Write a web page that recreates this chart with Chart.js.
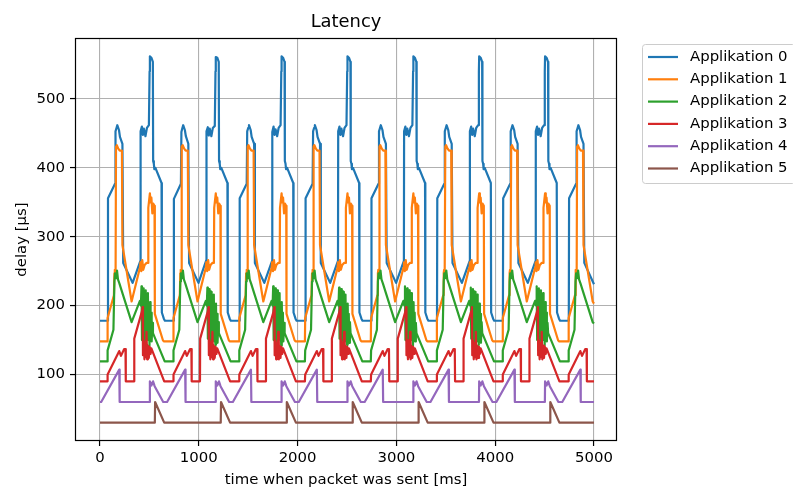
<!DOCTYPE html>
<html>
<head>
<meta charset="utf-8">
<title>Latency</title>
<script src="https://cdn.jsdelivr.net/npm/chart.js@4/dist/chart.umd.min.js"></script>
<style>
  html, body { margin: 0; padding: 0; background: #fff; overflow: hidden; }
  #latencyChart { display: block; }
</style>
</head>
<body>
<canvas id="latencyChart" width="793" height="488"></canvas>
<script>
// measured delay per application: [time sent (ms), delay (µs)]
const app0 = [
  [0,178],[78,178],[81,356],[152,377],[157,453],[167,458],[175,462],[192,455],[202,445],[227,435],[235,262],[330,233],[409,265],[411,453],[424,460],[434,448],[444,457],[460,446],[475,458],[495,462],[502,540],[505,562],[520,560],[535,554],[538,410],[545,406],[550,398],[561,400],[623,378],[626,190],[646,181],[657,178],
  [745,178],[748,355],[819,377],[824,452],[834,458],[842,462],[859,455],[869,446],[894,435],[902,262],[997,233],[1076,266],[1078,453],[1091,459],[1101,447],[1111,457],[1127,446],[1142,458],[1162,461],[1169,540],[1172,561],[1187,560],[1202,554],[1205,410],[1212,406],[1217,398],[1228,400],[1290,378],[1293,190],[1313,181],[1324,178],
  [1411,178],[1414,356],[1485,377],[1490,453],[1500,458],[1508,462],[1525,455],[1535,445],[1560,435],[1568,262],[1663,233],[1742,265],[1744,452],[1757,460],[1767,448],[1777,456],[1793,446],[1808,458],[1828,462],[1835,540],[1838,562],[1853,560],[1868,554],[1871,410],[1878,406],[1883,398],[1894,400],[1956,378],[1959,190],[1979,181],[1990,178],
  [2078,178],[2081,356],[2152,377],[2157,453],[2167,458],[2175,462],[2192,455],[2202,445],[2227,435],[2235,262],[2330,233],[2409,265],[2411,453],[2424,460],[2434,448],[2444,457],[2460,446],[2475,458],[2495,462],[2502,540],[2505,562],[2520,560],[2535,554],[2538,410],[2545,406],[2550,398],[2561,400],[2623,378],[2626,190],[2646,181],[2657,178],
  [2745,178],[2748,356],[2819,377],[2824,453],[2834,458],[2842,462],[2859,455],[2869,445],[2894,435],[2902,262],[2997,233],[3076,265],[3078,453],[3091,460],[3101,448],[3111,457],[3127,446],[3142,458],[3162,462],[3169,540],[3172,562],[3187,560],[3202,554],[3205,410],[3212,406],[3217,398],[3228,400],[3290,378],[3293,190],[3313,181],[3324,178],
  [3411,178],[3414,356],[3485,377],[3490,453],[3500,458],[3508,462],[3525,455],[3535,445],[3560,435],[3568,262],[3663,233],[3742,265],[3744,453],[3757,460],[3767,448],[3777,457],[3793,446],[3808,458],[3828,462],[3835,540],[3838,562],[3853,560],[3868,554],[3871,410],[3878,406],[3883,398],[3894,400],[3956,378],[3959,190],[3979,181],[3990,178],
  [4078,178],[4081,356],[4152,377],[4157,453],[4167,458],[4175,462],[4192,455],[4202,445],[4227,435],[4235,262],[4330,233],[4409,265],[4411,453],[4424,460],[4434,448],[4444,457],[4460,446],[4475,458],[4495,462],[4502,540],[4505,562],[4520,560],[4535,554],[4538,410],[4545,406],[4550,398],[4561,400],[4623,378],[4626,190],[4646,181],[4657,178],
  [4745,178],[4748,356],[4819,377],[4824,453],[4834,458],[4842,462],[4859,455],[4869,445],[4894,435],[4902,262],[5000,231]
];

const app1 = [
  [0,148],[74,148],[77,182],[141,215],[146,247],[150,252],[154,244],[158,250],[162,431],[170,433],[185,428],[200,425],[222,425],[227,288],[320,206],[404,255],[410,263],[418,250],[428,266],[438,252],[452,259],[470,262],[486,262],[489,342],[505,363],[512,350],[520,357],[530,334],[540,348],[552,345],[555,188],[636,150],[646,148],
  [741,148],[744,182],[808,215],[813,247],[817,252],[821,244],[825,250],[829,431],[837,433],[852,428],[867,425],[889,425],[894,288],[987,206],[1071,255],[1077,263],[1085,250],[1095,266],[1105,252],[1119,259],[1137,262],[1153,262],[1156,342],[1172,363],[1179,350],[1187,357],[1197,334],[1207,348],[1219,345],[1222,188],[1303,150],[1313,148],
  [1407,148],[1410,182],[1474,215],[1479,247],[1483,252],[1487,244],[1491,250],[1495,431],[1503,433],[1518,428],[1533,425],[1555,425],[1560,288],[1653,206],[1737,255],[1743,263],[1751,250],[1761,266],[1771,252],[1785,259],[1803,262],[1819,262],[1822,342],[1838,363],[1845,350],[1853,357],[1863,334],[1873,348],[1885,345],[1888,188],[1969,150],[1979,148],
  [2074,148],[2077,182],[2141,215],[2146,247],[2150,252],[2154,244],[2158,250],[2162,431],[2170,433],[2185,428],[2200,425],[2222,425],[2227,288],[2320,206],[2404,255],[2410,263],[2418,250],[2428,266],[2438,252],[2452,259],[2470,262],[2486,262],[2489,342],[2505,363],[2512,350],[2520,357],[2530,334],[2540,348],[2552,345],[2555,188],[2636,150],[2646,148],
  [2741,148],[2744,182],[2808,215],[2813,247],[2817,252],[2821,244],[2825,250],[2829,431],[2837,433],[2852,428],[2867,425],[2889,425],[2894,288],[2987,206],[3071,255],[3077,263],[3085,250],[3095,266],[3105,252],[3119,259],[3137,262],[3153,262],[3156,342],[3172,363],[3179,350],[3187,357],[3197,334],[3207,348],[3219,345],[3222,188],[3303,150],[3313,148],
  [3407,148],[3410,182],[3474,215],[3479,247],[3483,252],[3487,244],[3491,250],[3495,431],[3503,433],[3518,428],[3533,425],[3555,425],[3560,288],[3653,206],[3737,255],[3743,263],[3751,250],[3761,266],[3771,252],[3785,259],[3803,262],[3819,262],[3822,342],[3838,363],[3845,350],[3853,357],[3863,334],[3873,348],[3885,345],[3888,188],[3969,150],[3979,148],
  [4074,148],[4077,182],[4141,215],[4146,247],[4150,252],[4154,244],[4158,250],[4162,431],[4170,433],[4185,428],[4200,425],[4222,425],[4227,288],[4320,206],[4404,255],[4410,263],[4418,250],[4428,266],[4438,252],[4452,259],[4470,262],[4486,262],[4489,342],[4505,363],[4512,350],[4520,357],[4530,334],[4540,348],[4552,345],[4555,188],[4636,150],[4646,148],
  [4741,148],[4744,182],[4808,215],[4813,247],[4817,252],[4821,244],[4825,250],[4829,431],[4837,433],[4852,428],[4867,425],[4889,425],[4894,288],[4987,206],[5000,203]
];

const app2 = [
  [0,119],[74,119],[77,135],[136,165],[146,235],[152,247],[162,240],[172,251],[182,238],[197,232],[232,216],[320,176],[404,207],[414,200],[420,228],[425,150],[430,215],[436,158],[442,225],[447,145],[452,220],[457,155],[463,222],[468,150],[474,210],[479,162],[485,218],[490,150],[496,200],[501,142],[507,205],[512,150],[518,190],[523,148],[530,175],[536,160],[655,119],
  [741,119],[744,135],[803,165],[813,235],[819,247],[829,240],[839,251],[849,238],[864,232],[899,216],[987,176],[1071,207],[1081,200],[1087,226],[1092,152],[1097,218],[1103,156],[1109,224],[1114,147],[1119,221],[1124,153],[1130,220],[1135,149],[1141,212],[1146,160],[1152,216],[1157,148],[1163,202],[1168,143],[1174,203],[1179,152],[1185,188],[1190,146],[1197,176],[1203,160],[1322,119],
  [1407,119],[1410,135],[1469,165],[1479,235],[1485,247],[1495,240],[1505,251],[1515,238],[1530,232],[1565,216],[1653,176],[1737,207],[1747,200],[1753,228],[1758,150],[1763,215],[1769,158],[1775,225],[1780,145],[1785,220],[1790,155],[1796,222],[1801,150],[1807,210],[1812,162],[1818,218],[1823,150],[1829,200],[1834,142],[1840,205],[1845,150],[1851,190],[1856,148],[1863,175],[1869,160],[1988,119],
  [2074,119],[2077,135],[2136,165],[2146,235],[2152,247],[2162,240],[2172,251],[2182,238],[2197,232],[2232,216],[2320,176],[2404,207],[2414,200],[2420,226],[2425,152],[2430,218],[2436,156],[2442,224],[2447,147],[2452,221],[2457,153],[2463,220],[2468,149],[2474,212],[2479,160],[2485,216],[2490,148],[2496,202],[2501,143],[2507,203],[2512,152],[2518,188],[2523,146],[2530,176],[2536,160],[2655,119],
  [2741,119],[2744,135],[2803,165],[2813,235],[2819,247],[2829,240],[2839,251],[2849,238],[2864,232],[2899,216],[2987,176],[3071,207],[3081,200],[3087,228],[3092,150],[3097,215],[3103,158],[3109,225],[3114,145],[3119,220],[3124,155],[3130,222],[3135,150],[3141,210],[3146,162],[3152,218],[3157,150],[3163,200],[3168,142],[3174,205],[3179,150],[3185,190],[3190,148],[3197,175],[3203,160],[3322,119],
  [3407,119],[3410,135],[3469,165],[3479,235],[3485,247],[3495,240],[3505,251],[3515,238],[3530,232],[3565,216],[3653,176],[3737,207],[3747,200],[3753,226],[3758,152],[3763,218],[3769,156],[3775,224],[3780,147],[3785,221],[3790,153],[3796,220],[3801,149],[3807,212],[3812,160],[3818,216],[3823,148],[3829,202],[3834,143],[3840,203],[3845,152],[3851,188],[3856,146],[3863,176],[3869,160],[3988,119],
  [4074,119],[4077,135],[4136,165],[4146,235],[4152,247],[4162,240],[4172,251],[4182,238],[4197,232],[4232,216],[4320,176],[4404,207],[4414,200],[4420,228],[4425,150],[4430,215],[4436,158],[4442,225],[4447,145],[4452,220],[4457,155],[4463,222],[4468,150],[4474,210],[4479,162],[4485,218],[4490,150],[4496,200],[4501,142],[4507,205],[4512,150],[4518,190],[4523,148],[4530,175],[4536,160],[4655,119],
  [4741,119],[4744,135],[4803,165],[4813,235],[4819,247],[4829,240],[4839,251],[4849,238],[4864,232],[4899,216],[4987,176],[5000,174]
];

const app3 = [
  [0,90],[74,90],[77,100],[195,134],[212,127],[245,137],[258,137],[261,90],[345,90],[347,152],[425,192],[432,198],[435,128],[442,150],[450,122],[457,146],[465,125],[471,162],[477,122],[485,142],[494,124],[503,140],[512,130],[520,138],[650,90],
  [741,90],[744,100],[862,134],[879,127],[912,137],[925,137],[928,90],[1012,90],[1014,152],[1092,192],[1099,198],[1102,128],[1109,150],[1117,122],[1124,146],[1132,125],[1138,162],[1144,122],[1152,142],[1161,124],[1170,140],[1179,130],[1187,138],[1317,90],
  [1407,90],[1410,100],[1528,134],[1545,127],[1578,137],[1591,137],[1594,90],[1678,90],[1680,152],[1758,192],[1765,198],[1768,128],[1775,150],[1783,122],[1790,146],[1798,125],[1804,162],[1810,122],[1818,142],[1827,124],[1836,140],[1845,130],[1853,138],[1983,90],
  [2074,90],[2077,100],[2195,134],[2212,127],[2245,137],[2258,137],[2261,90],[2345,90],[2347,152],[2425,192],[2432,198],[2435,128],[2442,150],[2450,122],[2457,146],[2465,125],[2471,162],[2477,122],[2485,142],[2494,124],[2503,140],[2512,130],[2520,138],[2650,90],
  [2741,90],[2744,100],[2862,134],[2879,127],[2912,137],[2925,137],[2928,90],[3012,90],[3014,152],[3092,192],[3099,198],[3102,128],[3109,150],[3117,122],[3124,146],[3132,125],[3138,162],[3144,122],[3152,142],[3161,124],[3170,140],[3179,130],[3187,138],[3317,90],
  [3407,90],[3410,100],[3528,134],[3545,127],[3578,137],[3591,137],[3594,90],[3678,90],[3680,152],[3758,192],[3765,198],[3768,128],[3775,150],[3783,122],[3790,146],[3798,125],[3804,162],[3810,122],[3818,142],[3827,124],[3836,140],[3845,130],[3853,138],[3983,90],
  [4074,90],[4077,100],[4195,134],[4212,127],[4245,137],[4258,137],[4261,90],[4345,90],[4347,152],[4425,192],[4432,198],[4435,128],[4442,150],[4450,122],[4457,146],[4465,125],[4471,162],[4477,122],[4485,142],[4494,124],[4503,140],[4512,130],[4520,138],[4650,90],
  [4741,90],[4744,100],[4862,134],[4879,127],[4912,137],[4925,137],[4928,90],[5000,90]
];

const app4 = [
  [0,60],[12,60],[195,107],[199,60],[503,60],[505,90],[520,84],[537,90],[553,83],[640,60],
  [679,60],[862,107],[866,60],[1170,60],[1172,90],[1187,84],[1204,90],[1220,83],[1307,60],
  [1345,60],[1528,107],[1532,60],[1836,60],[1838,90],[1853,84],[1870,90],[1886,83],[1973,60],
  [2012,60],[2195,107],[2199,60],[2503,60],[2505,90],[2520,84],[2537,90],[2553,83],[2640,60],
  [2679,60],[2862,107],[2866,60],[3170,60],[3172,90],[3187,84],[3204,90],[3220,83],[3307,60],
  [3345,60],[3528,107],[3532,60],[3836,60],[3838,90],[3853,84],[3870,90],[3886,83],[3973,60],
  [4012,60],[4195,107],[4199,60],[4503,60],[4505,90],[4520,84],[4537,90],[4553,83],[4640,60],
  [4679,60],[4862,107],[4866,60],[5000,60]
];

const app5 = [
  [0,30],[555,30],[558,60],[650,30],
  [1222,30],[1225,60],[1317,30],
  [1888,30],[1891,60],[1983,30],
  [2555,30],[2558,60],[2650,30],
  [3222,30],[3225,60],[3317,30],
  [3888,30],[3891,60],[3983,30],
  [4555,30],[4558,60],[4650,30],
  [5000,30]
];

const labels = ['Applikation 0', 'Applikation 1', 'Applikation 2', 'Applikation 3', 'Applikation 4', 'Applikation 5'];
const colors = ['#1f77b4', '#ff7f0e', '#2ca02c', '#d62728', '#9467bd', '#8c564b'];
const series = [app0, app1, app2, app3, app4, app5];
const xTicks = [0, 1000, 2000, 3000, 4000, 5000];
const yTicks = [100, 200, 300, 400, 500];

const FONT = '"DejaVu Sans", sans-serif';
const FS = 14.9;      // tick, axis label and legend size
const LW = 2.2;       // series line width

// title, closed frame and the legend box to the right of the plot
const decorations = {
  id: 'decorations',
  afterDraw(chart) {
    const { ctx, chartArea: a } = chart;
    ctx.save();
    ctx.strokeStyle = '#000';
    ctx.lineWidth = 1.2;
    ctx.strokeRect(Math.round(a.left) + 0.5, Math.round(a.top) + 0.5,
      Math.round(a.right - a.left) - 1, Math.round(a.bottom - a.top) - 1);

    ctx.fillStyle = '#000';
    ctx.font = '17.9px ' + FONT;
    ctx.textAlign = 'center';
    ctx.textBaseline = 'middle';
    ctx.fillText('Latency', (a.left + a.right) / 2, 22);

    // legend
    const bx = 642.5, by = 44.5, bw = 153, bh = 139;
    ctx.beginPath();
    ctx.roundRect(bx, by, bw, bh, 3);
    ctx.fillStyle = 'rgba(255,255,255,0.8)';
    ctx.fill();
    ctx.strokeStyle = '#cccccc';
    ctx.lineWidth = 1;
    ctx.stroke();

    ctx.font = FS + 'px ' + FONT;
    ctx.textAlign = 'left';
    chart.data.datasets.forEach((ds, i) => {
      const y = 57 + i * 22.3;
      ctx.beginPath();
      ctx.moveTo(648, y);
      ctx.lineTo(678, y);
      ctx.strokeStyle = ds.borderColor;
      ctx.lineWidth = LW;
      ctx.stroke();
      ctx.fillStyle = '#000';
      ctx.fillText(ds.label, 690, y);
    });
    ctx.restore();
  }
};

const ctx = document.getElementById('latencyChart');

new Chart(ctx, {
  type: 'line',
  data: {
    datasets: series.map((pts, i) => ({
      label: labels[i],
      data: pts.map(p => ({ x: p[0], y: p[1] })),
      borderColor: colors[i],
      backgroundColor: colors[i],
      borderWidth: LW,
      borderJoinStyle: 'round',
      pointRadius: 0,
      tension: 0,
      fill: false,
      order: series.length - 1 - i
    }))
  },
  options: {
    responsive: false,
    animation: false,
    events: [],
    layout: { padding: { left: 0, top: 38, right: 176, bottom: 0 } },
    plugins: {
      legend: { display: false },
      title: { display: false },
      tooltip: { enabled: false }
    },
    scales: {
      x: {
        type: 'linear',
        min: -253,
        max: 5233,
        afterBuildTicks: s => { s.ticks = xTicks.map(v => ({ value: v })); },
        afterFit: s => { s.height = 47; },
        border: { display: false },
        grid: { color: '#b0b0b0', lineWidth: 1.1, tickColor: '#000', tickWidth: 1.2, tickLength: 5 },
        ticks: {
          color: '#000',
          font: { family: FONT, size: FS },
          padding: 3,
          maxRotation: 0,
          callback: v => String(v)
        },
        title: {
          display: true,
          text: 'time when packet was sent [ms]',
          color: '#000',
          font: { family: FONT, size: FS, lineHeight: 1 },
          padding: { top: 0, bottom: 0 }
        }
      },
      y: {
        type: 'linear',
        min: 3.4,
        max: 588.6,
        afterBuildTicks: s => { s.ticks = yTicks.map(v => ({ value: v })); },
        afterFit: s => { s.width = 75; },
        border: { display: false },
        grid: { color: '#b0b0b0', lineWidth: 1.1, tickColor: '#000', tickWidth: 1.2, tickLength: 5 },
        ticks: {
          color: '#000',
          font: { family: FONT, size: FS },
          padding: 5,
          callback: v => String(v)
        },
        title: {
          display: true,
          text: 'delay [µs]',
          color: '#000',
          font: { family: FONT, size: FS, lineHeight: 1 },
          padding: { top: 14.5, bottom: 0 }
        }
      }
    }
  },
  plugins: [decorations]
});
</script>
</body>
</html>
